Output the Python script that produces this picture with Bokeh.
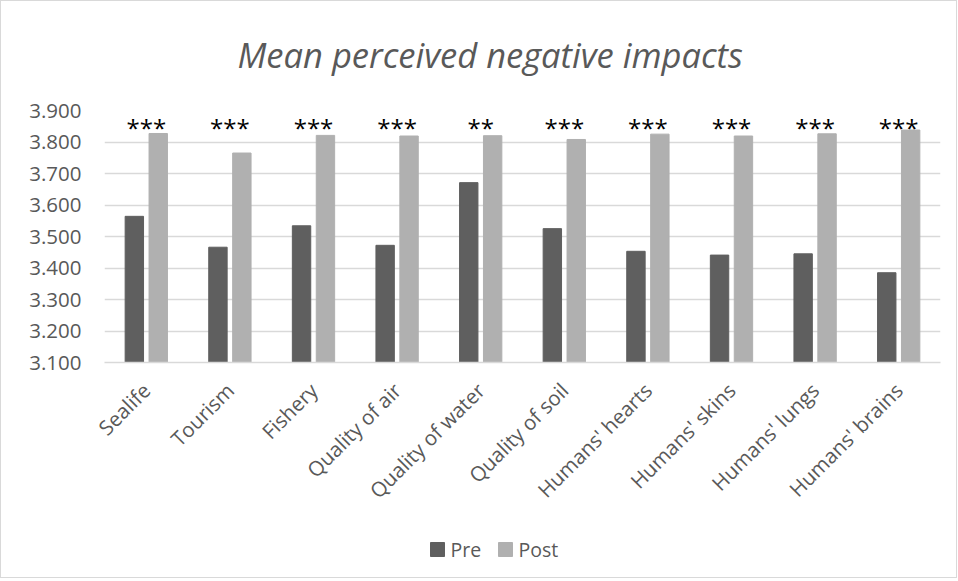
import math
from bokeh.plotting import figure
from bokeh.layouts import column
from bokeh.models import (ColumnDataSource, FactorRange, Range1d, FixedTicker,
                          NumeralTickFormatter, Label)
from bokeh.transform import dodge
from bokeh.core.properties import value
from bokeh.embed import file_html
from bokeh.resources import INLINE

categories = ["Sealife", "Tourism", "Fishery", "Quality of air", "Quality of water",
              "Quality of soil", "Humans' hearts", "Humans' skins", "Humans' lungs",
              "Humans' brains"]
pre = [3.564, 3.466, 3.534, 3.472, 3.671, 3.525, 3.453, 3.441, 3.445, 3.385]
post = [3.827, 3.765, 3.821, 3.819, 3.820, 3.808, 3.825, 3.819, 3.826, 3.838]
stars = ["***", "***", "***", "***", "**", "***", "***", "***", "***", "***"]
y_ticks = [3.1, 3.2, 3.3, 3.4, 3.5, 3.6, 3.7, 3.8, 3.9]
series_names = ["Pre", "Post"]
title_text = "Mean perceived negative impacts"

FONT = "Open Sans"
TXT = "#595959"
GRID = "#d9d9d9"
PRE_C = "#5f5f5f"
POST_C = "#b0b0b0"
STAR_Y = 3.845
W = 955
BL, BR = 103, 16   # left / right borders shared by all stacked figures


def strip(h):
    # x data units == page pixels - 1 (frame is aligned with the main chart frame)
    f = figure(width=W, height=h, x_range=Range1d(BL, W - BR), y_range=Range1d(0, h),
               x_axis_type=None, y_axis_type=None, output_backend="svg",
               toolbar_location=None, min_border_left=BL, min_border_right=BR,
               min_border_top=0, min_border_bottom=0)
    f.outline_line_color = None
    f.grid.visible = False
    f.background_fill_color = "white"
    f.border_fill_color = "white"
    return f


# ---- title strip ----
top = strip(85)
top.add_layout(Label(x=236, y=32, text=title_text, text_font=FONT,
                     text_font_style="italic", text_font_size="34.5px",
                     text_color=TXT, text_baseline="alphabetic", text_align="left"))

# ---- main chart ----
src = ColumnDataSource(dict(cat=categories, pre=pre, post=post, stars=stars,
                            sy=[STAR_Y] * len(categories)))

p = figure(width=W, height=434, x_range=FactorRange(*categories),
           y_range=Range1d(y_ticks[0], y_ticks[-1]),
           output_backend="svg", toolbar_location=None,
           min_border_left=BL, min_border_right=BR, min_border_top=24,
           min_border_bottom=158)
p.outline_line_color = None
p.background_fill_color = "white"
p.border_fill_color = "white"

p.vbar(x=dodge("cat", -0.143, range=p.x_range), top="pre", bottom=y_ticks[0],
       width=0.22, source=src, fill_color=PRE_C, line_color=PRE_C)
p.vbar(x=dodge("cat", 0.143, range=p.x_range), top="post", bottom=y_ticks[0],
       width=0.22, source=src, fill_color=POST_C, line_color=POST_C)

p.text(x="cat", y="sy", text="stars", source=src, text_align="center",
       text_baseline="middle", text_font=value(FONT), text_font_size="24px",
       text_color="black")

p.yaxis.ticker = FixedTicker(ticks=y_ticks)
p.yaxis.formatter = NumeralTickFormatter(format="0.000")
p.yaxis.axis_line_color = None
p.yaxis.major_tick_line_color = None
p.yaxis.minor_tick_line_color = None
p.yaxis.major_tick_out = 0
p.yaxis.major_label_standoff = 23
p.yaxis.major_label_text_font = FONT
p.yaxis.major_label_text_font_size = "20.5px"
p.yaxis.major_label_text_color = TXT

p.xaxis.axis_line_color = GRID
p.xaxis.axis_line_width = 1.5
p.xaxis.major_tick_line_color = None
p.xaxis.minor_tick_line_color = None
p.xaxis.major_tick_out = 0
p.xaxis.major_label_orientation = math.pi / 4
p.xaxis.major_label_standoff = 24
p.xaxis.major_label_text_font = FONT
p.xaxis.major_label_text_font_size = "20.5px"
p.xaxis.major_label_text_color = TXT

p.xgrid.grid_line_color = None
p.ygrid.grid_line_color = GRID
p.ygrid.grid_line_width = 1.5

# ---- legend strip ----
lf = strip(57)
leg_src = ColumnDataSource(dict(name=series_names, color=[PRE_C, POST_C],
                                sx=[436, 504], tx=[449, 517]))
lf.rect(x="sx", y=28, width=14, height=14, source=leg_src,
        fill_color="color", line_color="color")
lf.text(x="tx", y=28, text="name", source=leg_src, text_align="left",
        text_baseline="alphabetic", text_font=value(FONT),
        text_font_size="19.5px", text_color=TXT)

layout = column(top, p, lf, spacing=0, styles={"border": "1px solid #d9d9d9"})

open("out.html", "w").write(file_html(layout, INLINE))
